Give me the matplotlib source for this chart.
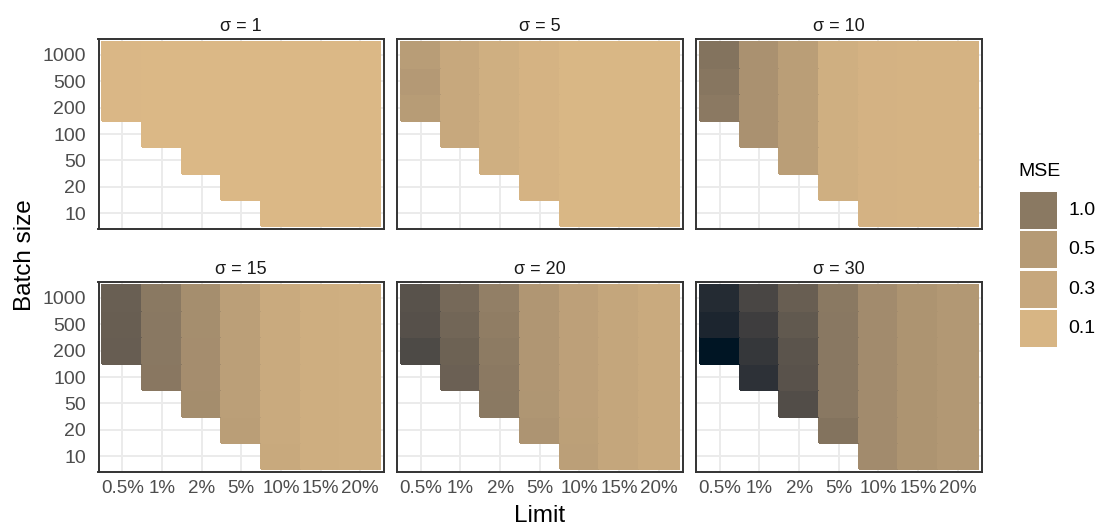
import numpy as np
import matplotlib
matplotlib.use("Agg")
import matplotlib.pyplot as plt
from matplotlib.colors import ListedColormap, Normalize, to_rgb
from matplotlib.patches import Rectangle

plt.rcParams['font.family'] = ['Liberation Sans', 'DejaVu Sans']

# categories
limits = ["0.5%", "1%", "2%", "5%", "10%", "15%", "20%"]
batch_sizes = ["10", "20", "50", "100", "200", "500", "1000"]
sigmas = [1, 5, 10, 15, 20, 30]

nan = np.nan
# MSE per cell: rows = batch size (10 ... 1000), columns = limit (0.5% ... 20%)
mse_s1 = [
    [nan, nan, nan, nan, 0.06, 0.06, 0.06],
    [nan, nan, nan, 0.06, 0.06, 0.06, 0.06],
    [nan, nan, 0.06, 0.06, 0.06, 0.06, 0.06],
    [nan, 0.06, 0.06, 0.06, 0.06, 0.06, 0.06],
    [0.07, 0.06, 0.06, 0.06, 0.06, 0.06, 0.06],
    [0.07, 0.06, 0.06, 0.06, 0.06, 0.06, 0.06],
    [0.07, 0.06, 0.06, 0.06, 0.06, 0.06, 0.06],
]
mse_s5 = [
    [nan, nan, nan, nan, 0.08, 0.08, 0.08],
    [nan, nan, nan, 0.13, 0.08, 0.08, 0.08],
    [nan, nan, 0.19, 0.13, 0.08, 0.08, 0.08],
    [nan, 0.29, 0.19, 0.13, 0.08, 0.08, 0.08],
    [0.47, 0.29, 0.19, 0.13, 0.08, 0.08, 0.08],
    [0.51, 0.29, 0.19, 0.13, 0.08, 0.08, 0.08],
    [0.46, 0.29, 0.19, 0.13, 0.08, 0.08, 0.08],
]
mse_s10 = [
    [nan, nan, nan, nan, 0.14, 0.13, 0.13],
    [nan, nan, nan, 0.19, 0.14, 0.13, 0.13],
    [nan, nan, 0.43, 0.19, 0.14, 0.13, 0.13],
    [nan, 0.62, 0.43, 0.19, 0.14, 0.13, 0.13],
    [0.99, 0.62, 0.43, 0.19, 0.14, 0.13, 0.13],
    [1.05, 0.62, 0.43, 0.19, 0.14, 0.13, 0.13],
    [1.10, 0.63, 0.43, 0.19, 0.14, 0.13, 0.13],
]
mse_s15 = [
    [nan, nan, nan, nan, 0.28, 0.20, 0.19],
    [nan, nan, nan, 0.43, 0.27, 0.20, 0.19],
    [nan, nan, 0.70, 0.42, 0.27, 0.20, 0.19],
    [nan, 1.03, 0.69, 0.42, 0.27, 0.20, 0.19],
    [1.45, 1.02, 0.69, 0.42, 0.27, 0.20, 0.19],
    [1.43, 1.01, 0.68, 0.42, 0.27, 0.20, 0.19],
    [1.42, 1.00, 0.68, 0.42, 0.27, 0.20, 0.19],
]
mse_s20 = [
    [nan, nan, nan, nan, 0.42, 0.32, 0.27],
    [nan, nan, nan, 0.58, 0.41, 0.32, 0.27],
    [nan, nan, 1.00, 0.56, 0.40, 0.32, 0.27],
    [nan, 1.40, 0.99, 0.55, 0.40, 0.32, 0.27],
    [1.77, 1.37, 0.97, 0.55, 0.40, 0.32, 0.27],
    [1.67, 1.30, 0.94, 0.55, 0.40, 0.32, 0.27],
    [1.64, 1.26, 0.91, 0.55, 0.40, 0.32, 0.27],
]
mse_s30 = [
    [nan, nan, nan, nan, 0.72, 0.59, 0.53],
    [nan, nan, nan, 1.10, 0.72, 0.59, 0.53],
    [nan, nan, 1.72, 1.02, 0.72, 0.59, 0.53],
    [nan, 2.21, 1.63, 1.02, 0.72, 0.59, 0.53],
    [2.75, 2.10, 1.60, 1.02, 0.72, 0.59, 0.53],
    [2.43, 1.99, 1.52, 1.02, 0.72, 0.59, 0.53],
    [2.32, 1.83, 1.43, 1.00, 0.72, 0.59, 0.53],
]
mse_all = [mse_s1, mse_s5, mse_s10, mse_s15, mse_s20, mse_s30]

legend_breaks = [1.0, 0.5, 0.3, 0.1]
legend_labels = ["1.0", "0.5", "0.3", "0.1"]


# gradient interpolated in CIE Lab, like a ggplot continuous fill
def srgb_to_lab(rgb):
    c = np.asarray(rgb, dtype=float)
    lin = np.where(c <= 0.04045, c / 12.92, ((c + 0.055) / 1.055) ** 2.4)
    m = np.array([[0.4124, 0.3576, 0.1805],
                  [0.2126, 0.7152, 0.0722],
                  [0.0193, 0.1192, 0.9505]])
    xyz = m @ lin / np.array([0.95047, 1.0, 1.08883])
    f = np.where(xyz > 0.008856, np.cbrt(xyz), 7.787 * xyz + 16 / 116)
    return np.array([116 * f[1] - 16, 500 * (f[0] - f[1]), 200 * (f[1] - f[2])])


def lab_to_srgb(lab):
    L, a, b = lab
    fy = (L + 16) / 116
    fx = fy + a / 500
    fz = fy - b / 200
    f = np.array([fx, fy, fz])
    xyz = np.where(f ** 3 > 0.008856, f ** 3, (f - 16 / 116) / 7.787)
    xyz = xyz * np.array([0.95047, 1.0, 1.08883])
    m = np.array([[3.2406, -1.5372, -0.4986],
                  [-0.9689, 1.8758, 0.0415],
                  [0.0557, -0.2040, 1.0570]])
    lin = np.clip(m @ xyz, 0, 1)
    return np.where(lin <= 0.0031308, 12.92 * lin, 1.055 * lin ** (1 / 2.4) - 0.055)


low_lab = srgb_to_lab(to_rgb("#dbb886"))
high_lab = srgb_to_lab(to_rgb("#001524"))
steps = np.linspace(0, 1, 256)
cmap = ListedColormap([lab_to_srgb(low_lab + s * (high_lab - low_lab)) for s in steps])
norm = Normalize(vmin=0.05, vmax=2.75)

fig = plt.figure(figsize=(11.01, 5.31), dpi=100)

W, H = 1101, 531
lefts = [98.5, 397, 696]
tops = [39, 282]
pw, ph = 285.5, 190

tick_color = "#4d4d4d"
for i, (sig, vals) in enumerate(zip(sigmas, mse_all)):
    r, c = divmod(i, 3)
    ax = fig.add_axes([lefts[c] / W, 1 - (tops[r] + ph) / H, pw / W, ph / H])
    z = np.ma.masked_invalid(np.array(vals, dtype=float))
    xe = np.arange(len(limits) + 1) - 0.5
    ye = np.arange(len(batch_sizes) + 1) - 0.5
    ax.pcolormesh(xe, ye, z, cmap=cmap, norm=norm, shading="flat",
                  edgecolors="face", linewidth=0.2, zorder=2)
    ax.set_xlim(-0.6, len(limits) - 0.4)
    ax.set_ylim(-0.6, len(batch_sizes) - 0.4)
    ax.set_xticks(range(len(limits)))
    ax.set_yticks(range(len(batch_sizes)))
    ax.grid(True, color="#ebebeb", linewidth=1.4, zorder=0)
    ax.set_axisbelow(True)
    ax.tick_params(length=0, colors=tick_color)
    ax.tick_params(axis="y", pad=9, labelsize=14)
    ax.tick_params(axis="x", pad=6, labelsize=13.5)
    if c == 0:
        ax.set_yticklabels(batch_sizes)
    else:
        ax.set_yticklabels([])
    if r == 1:
        ax.set_xticklabels(limits)
    else:
        ax.set_xticklabels([])
    for sp in ax.spines.values():
        sp.set_color("#333333")
        sp.set_linewidth(1.4)
        sp.set_zorder(5)
    ax.set_title("\u03c3 = %d" % sig, fontsize=13, pad=6, color="#1a1a1a")

fig.text(25 / W, 1 - 255 / H, "Batch size", rotation=90, fontsize=17.5,
         ha="center", va="center")
fig.text(540 / W, 1 - 516 / H, "Limit", fontsize=17.5, ha="center", va="center")

# legend keys
fig.text(1018 / W, 1 - 172 / H, "MSE", fontsize=14, ha="left", va="center")
key_top = 192
for k, (b, lab) in enumerate(zip(legend_breaks, legend_labels)):
    y0 = key_top + k * 39.3
    fig.patches.append(Rectangle((1020 / W, 1 - (y0 + 37) / H), 37 / W, 37 / H,
                                 transform=fig.transFigure,
                                 facecolor=cmap(norm(b)), edgecolor="none"))
    fig.text(1068 / W, 1 - (y0 + 18.5) / H, lab, fontsize=14,
             ha="left", va="center")

fig.savefig("out.png", dpi=100)
